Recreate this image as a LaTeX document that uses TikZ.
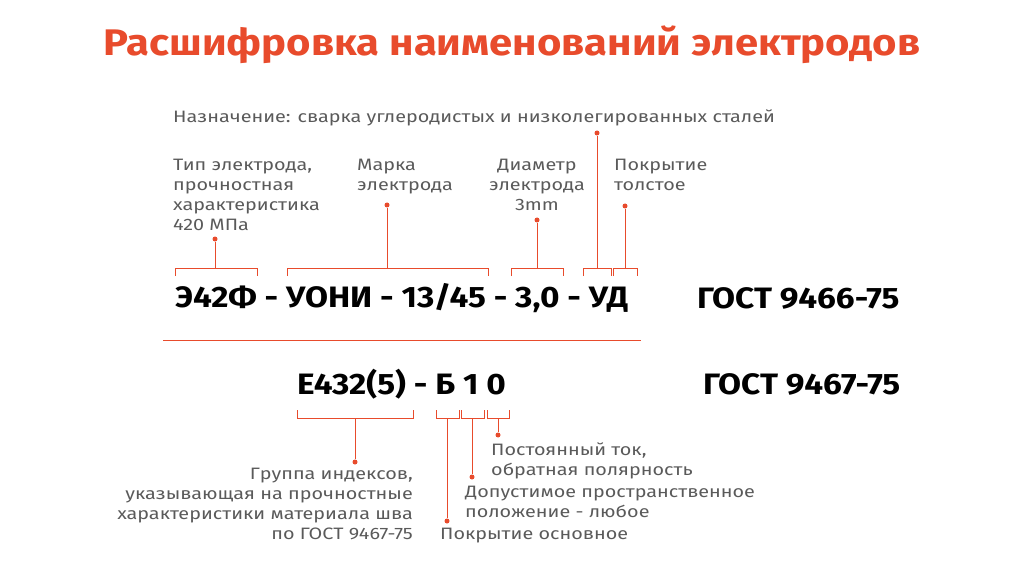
\documentclass[tikz,border=0pt]{standalone}
\usepackage{fontspec}
\setmainfont{Fira Sans}
\newfontfamily\lblfont[FakeStretch=1.2]{Fira Sans}
\newfontfamily\bigfont[FakeStretch=1.13]{Fira Sans}
\definecolor{accent}{HTML}{E84B2C}
\definecolor{lab}{HTML}{5A5A5A}
\begin{document}
\begin{tikzpicture}[x=1pt,y=-1pt,
  lbl/.style={text=lab,font=\lblfont\fontsize{16.5}{20}\selectfont,inner sep=0pt,align=left},
  big/.style={font=\bigfont\fontsize{29.5}{34}\selectfont\bfseries,inner sep=0pt},
  ln/.style={draw=accent,line width=1pt},
  dot/.style={circle,fill=accent,inner sep=0pt,minimum size=5pt}]
\useasboundingbox (0,0) rectangle (1024,585);
\node[font=\bigfont\fontsize{37}{40}\selectfont\bfseries,text=accent] (title) at (512,45) {Расшифровка наименований электродов};
\node[lbl,anchor=west] (nazn) at (173,118) {Назначение: сварка углеродистых и низколегированных сталей};
\node[lbl,anchor=north west] (tip) at (173,159) {Тип электрода,\\прочностная\\характеристика\\420 МПа};
\node[lbl,anchor=north west] (marka) at (357,159) {Марка\\электрода};
\node[lbl,anchor=north,align=center] (diam) at (537,159) {Диаметр\\электрода\\3mm};
\node[lbl,anchor=north west] (pokr) at (614,159) {Покрытие\\толстое};
\node[big,anchor=west] (code1) at (175,298) {Э42Ф - УОНИ - 13/45 - 3,0 - УД};
\node[big,anchor=west] (gost1) at (697,298) {ГОСТ 9466-75};
\node[big,anchor=west] (code2) at (297,384) {Е432(5) - Б 1 0};
\node[big,anchor=west] (gost2) at (703,384) {ГОСТ 9467-75};
\draw[ln,line width=0.8pt] (163,340) -- (641,340);
% top brackets
\foreach \a/\b/\c/\d/\n in {175/257/215/239/t1,287/488/387/205/t2,511/563/537/220/t3,583/611/597/133/t4,613/637/625/206/t5}{
  \node[dot] (\n) at (\c,\d) {};
  \coordinate (\n b) at (\c,268);
  \draw[ln] (\a,276) -- (\a,268) -- (\b,268) -- (\b,276);
  \draw[ln] (\n) -- (\n b);
}
% bottom labels
\node[lbl,anchor=north east,align=right] (grp) at (413,468) {Группа индексов,\\указывающая на прочностные\\характеристики материала шва\\по ГОСТ 9467-75};
\node[lbl,anchor=north west] (tok) at (491,443) {Постоянный ток,\\обратная полярность};
\node[lbl,anchor=north west] (dop) at (465,486) {Допустимое пространственное\\положение - любое};
\node[lbl,anchor=north west] (osn) at (440,528) {Покрытие основное};
\foreach \a/\b/\c/\d/\n in {297/413/355/462/b1,436/459/447/521/b2,461/484/472/477/b3,487/509/498/435/b4}{
  \node[dot] (\n) at (\c,\d) {};
  \coordinate (\n b) at (\c,418);
  \draw[ln] (\a,410) -- (\a,418) -- (\b,418) -- (\b,410);
  \draw[ln] (\n) -- (\n b);
}
\end{tikzpicture}
\end{document}
